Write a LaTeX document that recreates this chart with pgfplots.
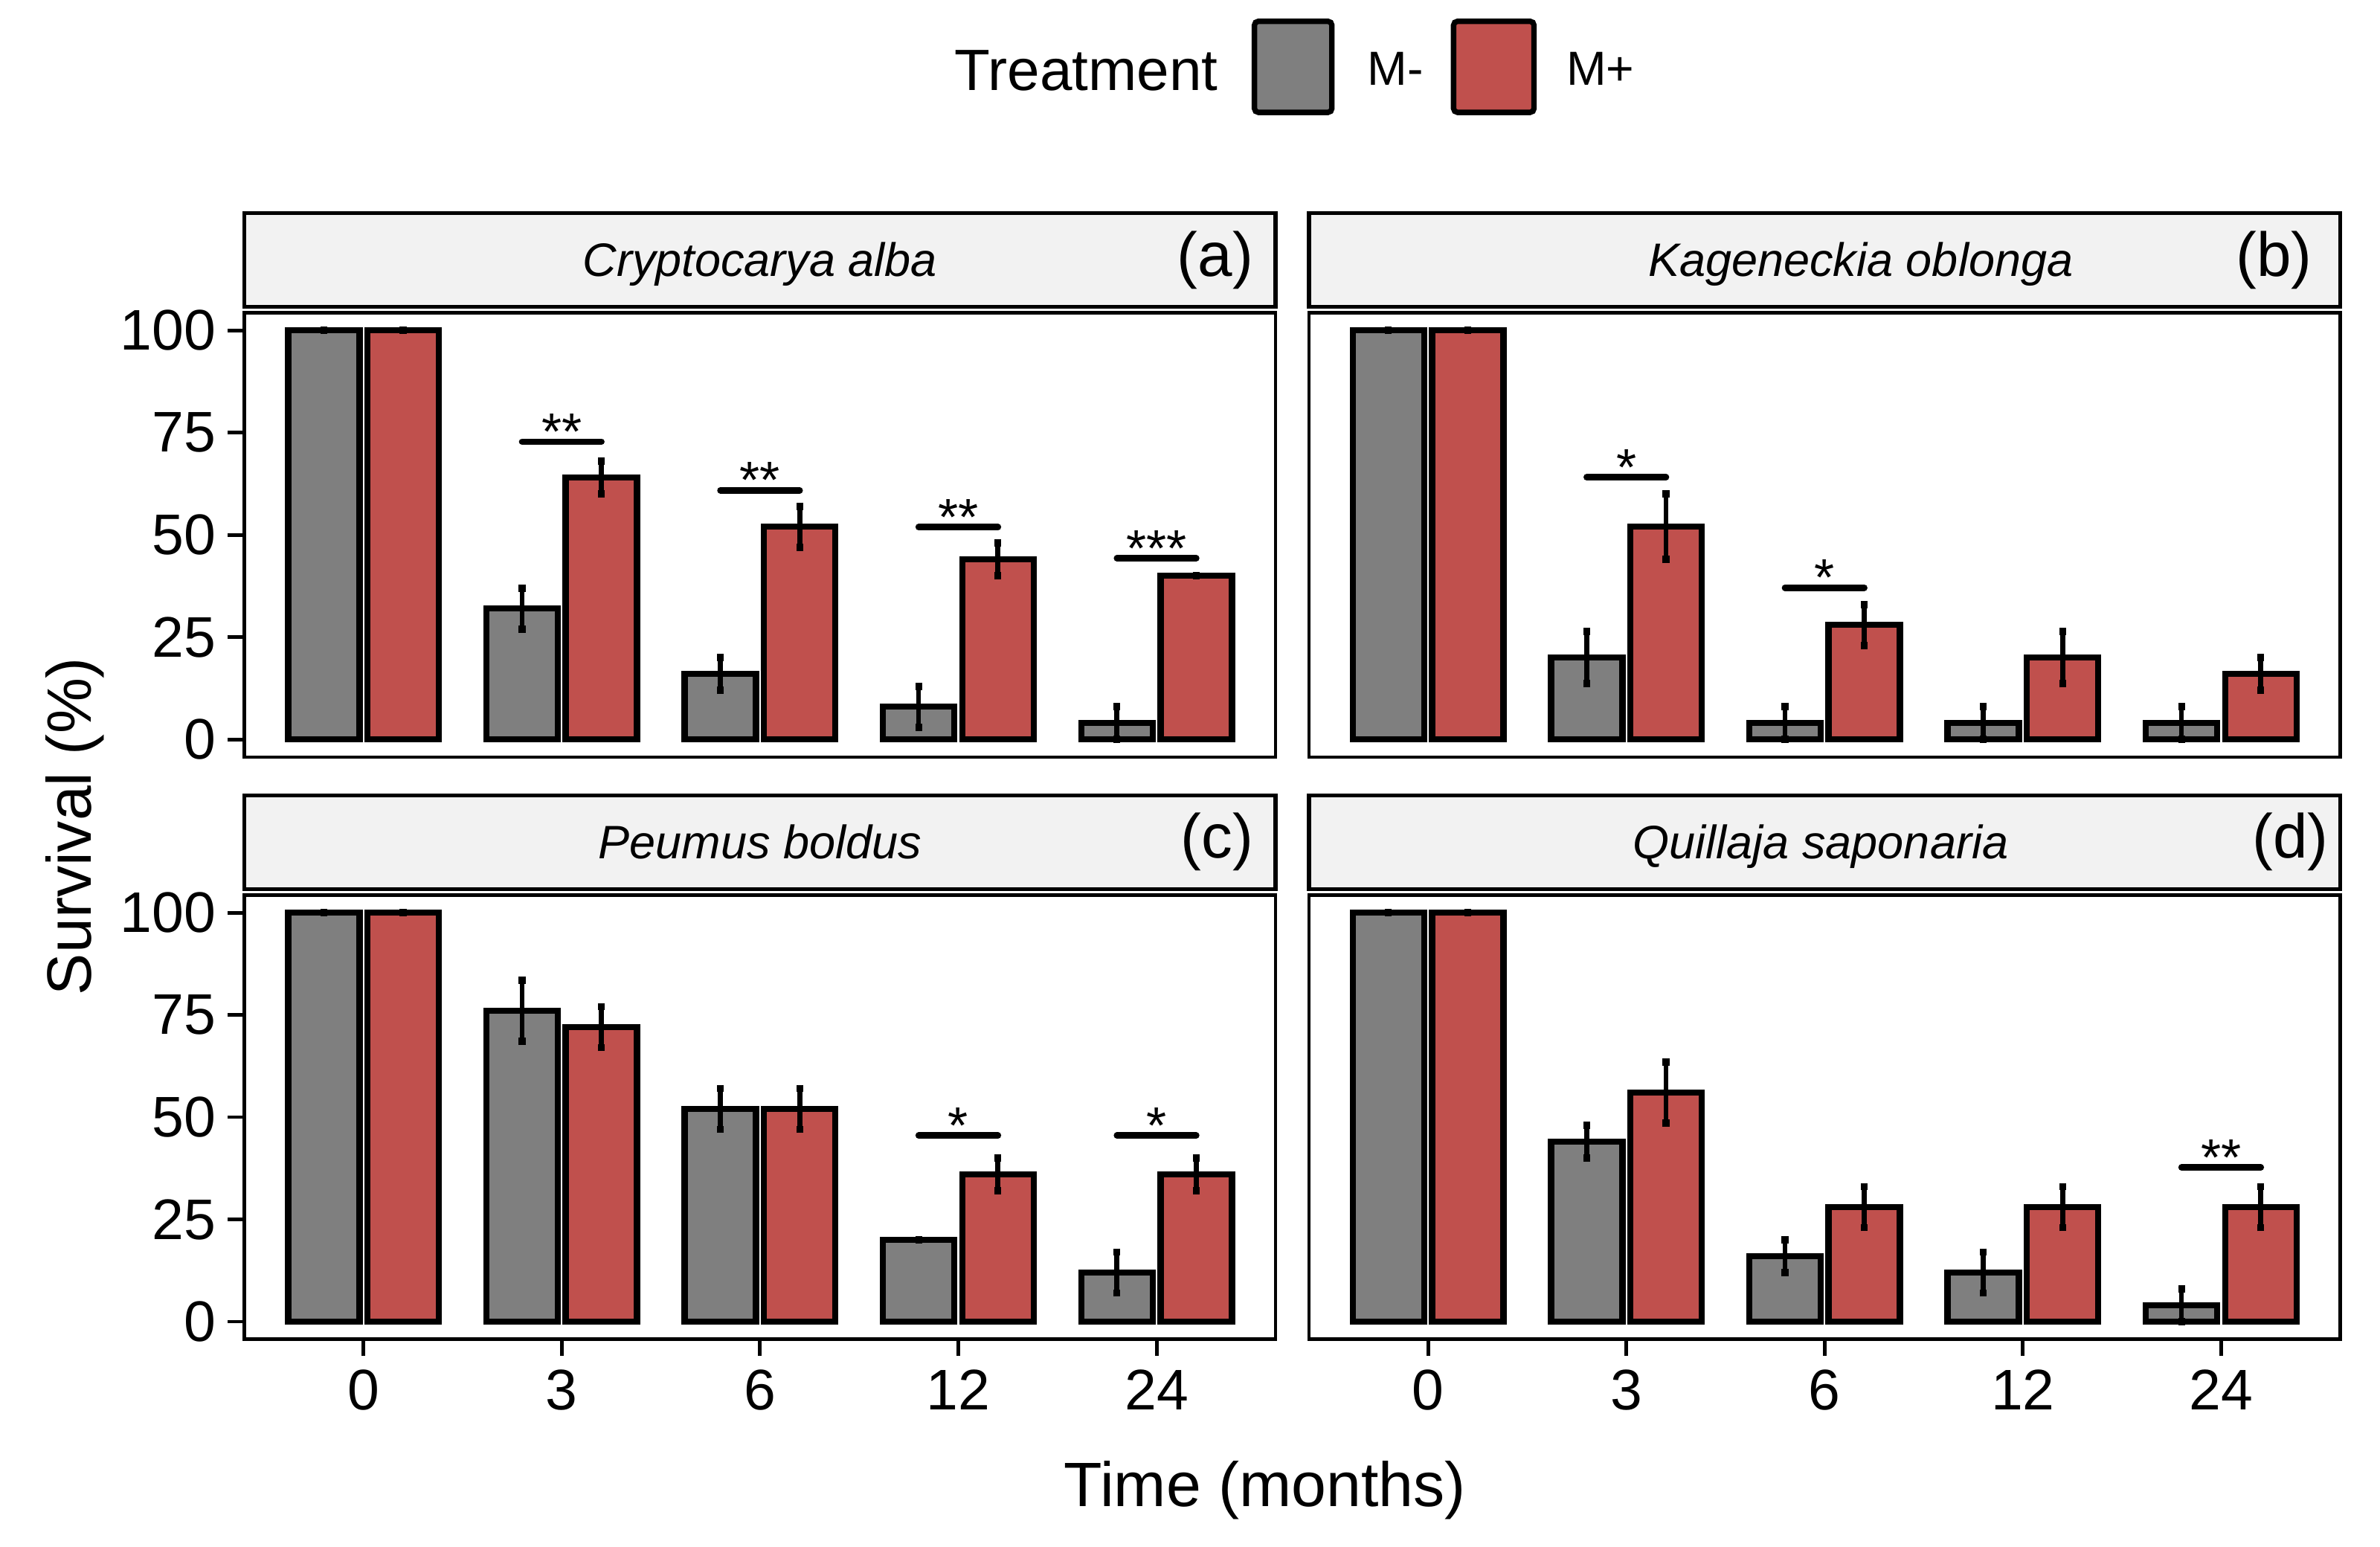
\documentclass[border=0pt]{standalone}
\usepackage{pgfplots}
\pgfplotsset{compat=1.18}
\usepackage{pgfplotstable}
\usepackage{fontspec}
\setmainfont{Liberation Sans}

\definecolor{mminus}{HTML}{7F7F7F}
\definecolor{mplus}{HTML}{C0504D}
\definecolor{stripbg}{HTML}{F2F2F2}

% x: 0=0, 1=3, 2=6, 3=12, 4=24 months; m/me = M- mean/se, p/pe = M+ mean/se
\pgfplotstableread{
x m me p pe
0 100 0 100 0
1 32 5 64 4
2 16 4 52 5
3 8 5 44 4
4 4 4 40 0
}\tca
\pgfplotstableread{
x m me p pe
0 100 0 100 0
1 20 6.4 52 8
2 4 4 28 5
3 4 4 20 6.4
4 4 4 16 4
}\tkb
\pgfplotstableread{
x m me p pe
0 100 0 100 0
1 76 7.5 72 5
2 52 5 52 5
3 20 0 36 4
4 12 5 36 4
}\tpc
\pgfplotstableread{
x m me p pe
0 100 0 100 0
1 44 4 56 7.5
2 16 4 28 5
3 12 5 28 5
4 4 4 28 5
}\tqd

\newcommand\tickfont{\fontsize{11.6}{12}\selectfont}
\newcommand\starfont{\fontsize{10.5}{11}\selectfont}

\pgfplotsset{
  panel/.style={
    scale only axis, width=208.9pt, height=90pt,
    anchor=north west,
    xmin=-0.6, xmax=4.6, ymin=-4.3, ymax=104.3,
    axis line style={line width=0.7pt},
    tick align=outside, tick pos=left, major tick length=3.4pt,
    every tick/.style={line width=0.75pt, black},
    xtick={0,1,2,3,4}, xticklabels={0,3,6,12,24},
    ytick={0,25,50,75,100}, yticklabels={0,25,50,75,100},
    /pgf/number format/assume math mode=true,
    yticklabel style={font=\tickfont, inner sep=0pt, anchor=east, xshift=-2.2pt},
    xticklabel style={font=\tickfont, inner sep=0pt, anchor=north, yshift=-2.6pt},
  },
  mbar/.style={ybar, bar width=0.36, bar shift=0pt, draw=black, line width=1.25pt,
    error bars/y dir=both, error bars/y explicit,
    error bars/error bar style={line width=1pt, black},
    error bars/error mark options={line width=1.4pt, mark size=0.75pt, black}},
}

\newcommand\barpair[1]{%
  \addplot[mbar, fill=mminus] table[x expr=\thisrow{x}-0.2, y=m, y error=me]{#1};
  \addplot[mbar, fill=mplus] table[x expr=\thisrow{x}+0.2, y=p, y error=pe]{#1};
}
\newcommand\sig[4]{% left, right, centre, height; the stars follow in braces
  \draw[line width=1.3pt, line cap=round] (axis cs:#1,#4) -- (axis cs:#2,#4);
  \node[font=\starfont, anchor=base, inner sep=0pt, yshift=-1.6pt] at (axis cs:#3,#4)}

\begin{document}
\begin{tikzpicture}
\path[use as bounding box] (0,0) rectangle (482.2pt,-313.4pt);

\begin{axis}[panel, name=a, at={(49.54pt,-63.38pt)}, xmajorticks=false]
\barpair{\tca}
\sig{0.8}{1.2}{1}{72.8}{**};
\sig{1.8}{2.2}{2}{60.9}{**};
\sig{2.8}{3.2}{3}{51.9}{**};
\sig{3.8}{4.2}{4}{44.3}{***};
\end{axis}

\begin{axis}[panel, name=b, at={(265.23pt,-63.38pt)}, xmajorticks=false, ymajorticks=false]
\barpair{\tkb}
\sig{0.8}{1.2}{1}{64.1}{*};
\sig{1.8}{2.2}{2}{37.1}{*};
\end{axis}

\begin{axis}[panel, name=c, at={(49.54pt,-181.33pt)}]
\barpair{\tpc}
\sig{2.8}{3.2}{3}{45.5}{*};
\sig{3.8}{4.2}{4}{45.5}{*};
\end{axis}

\begin{axis}[panel, name=d, at={(265.23pt,-181.33pt)}, ymajorticks=false]
\barpair{\tqd}
\sig{3.8}{4.2}{4}{37.7}{**};
\end{axis}

% facet strips
\foreach \p/\lab/\num/\dx/\rx in {a/Cryptocarya alba/(a)/0pt/4.3pt, b/Kageneckia oblonga/(b)/7.3pt/5.5pt, c/Peumus boldus/(c)/0pt/4.3pt, d/Quillaja saponaria/(d)/-0.8pt/2.2pt}{
  \draw[fill=stripbg, line width=0.8pt] ([yshift=1.2pt]\p.north west) rectangle ([yshift=20.2pt]\p.north east);
  \node[font=\fontsize{9.5}{10}\selectfont\itshape, anchor=base, inner sep=0pt] at ([xshift=\dx, yshift=7.4pt]\p.north) {\lab};
  \node[font=\fontsize{12.6}{13}\selectfont, anchor=east, inner sep=0pt] at ([xshift=-\rx, yshift=10.7pt]\p.north east) {\num};
}

% legend
\node[font=\fontsize{11.8}{12}\selectfont, anchor=base west, inner sep=0pt] at (193.2pt,-18.25pt) {Treatment};
\draw[fill=mminus, line width=1.1pt, rounded corners=0.8pt] (254.15pt,-4.31pt) rectangle (269.85pt,-22.77pt);
\node[font=\fontsize{9.7}{10}\selectfont, anchor=base west, inner sep=0pt] at (276.9pt,-17.23pt) {M-};
\draw[fill=mplus, line width=1.1pt, rounded corners=0.8pt] (294.5pt,-4.31pt) rectangle (310.8pt,-22.77pt);
\node[font=\fontsize{9.7}{10}\selectfont, anchor=base west, inner sep=0pt] at (317.2pt,-17.23pt) {M+};

% axis titles
\node[font=\fontsize{12.7}{13}\selectfont, anchor=base, inner sep=0pt] at (256.3pt,-305.2pt) {Time (months)};
\node[font=\fontsize{12.7}{13}\selectfont, anchor=base, inner sep=0pt, rotate=90] at (18.5pt,-167.4pt) {Survival (\%)};
\end{tikzpicture}
\end{document}
